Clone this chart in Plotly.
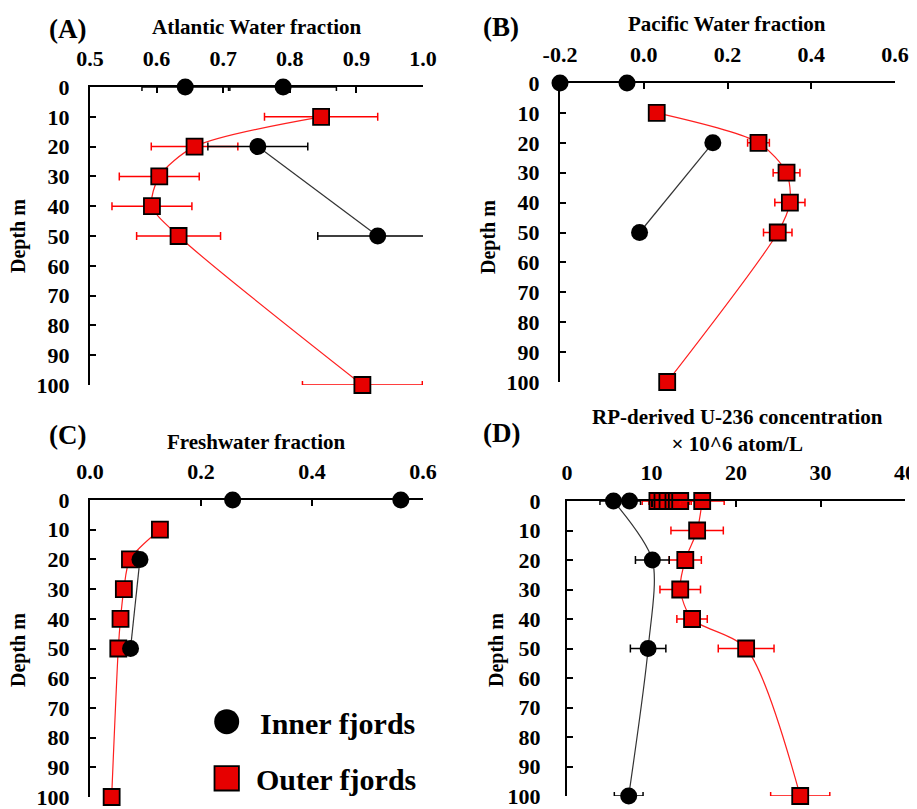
import plotly.graph_objects as go

W, H = 917, 809
OFF = 8  # page body margin of the browser
FW, FH = W - OFF, H - OFF

# ---------------- data ----------------
depth_ticks = [0, 10, 20, 30, 40, 50, 60, 70, 80, 90, 100]
depth_ticklabels = ["0", "10", "20", "30", "40", "50", "60", "70", "80", "90", "100"]

# (A) Atlantic Water fraction
a_ticks = [0.5, 0.6, 0.7, 0.8, 0.9, 1.0]
a_ticklabels = ["0.5", "0.6", "0.7", "0.8", "0.9", "1.0"]
a_inner_surf_depth = [0, 0]
a_inner_surf_val = [0.643, 0.79]
a_inner_surf_err = [0.065, 0.08]
a_inner_prof_depth = [20, 50]
a_inner_prof_val = [0.752, 0.932]
a_inner_prof_err = [0.075, 0.09]
a_outer_depth = [10, 20, 30, 40, 50, 100]
a_outer_val = [0.847, 0.657, 0.604, 0.593, 0.633, 0.909]
a_outer_err = [0.085, 0.065, 0.06, 0.06, 0.063, 0.09]

# (B) Pacific Water fraction
b_ticks = [-0.2, 0.0, 0.2, 0.4, 0.6]
b_ticklabels = ["-0.2", "0.0", "0.2", "0.4", "0.6"]
b_inner_surf_depth = [0, 0]
b_inner_surf_val = [-0.2, -0.04]
b_inner_prof_depth = [20, 50]
b_inner_prof_val = [0.165, -0.01]
b_outer_depth = [10, 20, 30, 40, 50, 100]
b_outer_val = [0.031, 0.274, 0.341, 0.349, 0.32, 0.056]
b_outer_err = [0.0, 0.026, 0.032, 0.036, 0.034, 0.0]

# (C) Freshwater fraction
c_ticks = [0.0, 0.2, 0.4, 0.6]
c_ticklabels = ["0.0", "0.2", "0.4", "0.6"]
c_inner_surf_depth = [0, 0]
c_inner_surf_val = [0.257, 0.56]
c_inner_prof_depth = [20, 50]
c_inner_prof_val = [0.09, 0.073]
c_outer_depth = [10, 20, 30, 40, 50, 100]
c_outer_val = [0.126, 0.072, 0.061, 0.055, 0.051, 0.039]

# (D) RP-derived U-236 concentration (x 10^6 atom/L)
d_ticks = [0, 10, 20, 30, 40]
d_ticklabels = ["0", "10", "20", "30", "40"]
d_inner_surf_depth = [0]
d_inner_surf_val = [7.4]
d_inner_surf_err = [1.3]
d_inner_prof_depth = [0, 20, 50, 100]
d_inner_prof_val = [5.5, 10.1, 9.6, 7.3]
d_inner_prof_err = [1.6, 2.0, 2.1, 1.7]
d_outer_surf_depth = [0, 0, 0, 0, 0, 0]
d_outer_surf_val = [10.7, 11.3, 11.9, 12.6, 13.0, 13.4]
d_outer_surf_err = [1.8, 1.6, 1.5, 1.4, 1.5, 1.3]
d_outer_depth = [0, 10, 20, 30, 40, 50, 100]
d_outer_val = [16.0, 15.4, 14.0, 13.4, 14.8, 21.2, 27.6]
d_outer_err = [2.6, 3.1, 1.9, 2.4, 1.8, 3.3, 3.5]

legend_labels = ["Inner fjords", "Outer fjords"]

# ---------------- style ----------------
FONT = "Liberation Serif, Times New Roman, serif"
RED_FILL = "#E60000"
RED_LINE = "#FF2020"

fig = go.Figure()


def add_series(ax, xs, ys, kind, err=None, line=False, clip=False):
    inner = kind == "inner"
    kw = {}
    if err is not None:
        kw["error_x"] = dict(type="data", array=err, visible=True,
                             color="black" if inner else "red",
                             thickness=1.5, width=4)
    fig.add_trace(go.Scatter(
        x=xs, y=ys, xaxis="x" + ax, yaxis="y" + ax,
        mode="lines+markers" if line else "markers",
        line=dict(color="#333333" if inner else RED_LINE, width=1.2,
                  shape="spline", smoothing=0.8),
        marker=dict(symbol="circle" if inner else "square",
                    size=17 if inner else 16,
                    color="black" if inner else RED_FILL,
                    line=dict(color="black", width=0 if inner else 1.8)),
        cliponaxis=clip, showlegend=False, **kw))


# panel A
add_series("", a_outer_val, a_outer_depth, "outer", a_outer_err, line=True)
add_series("", a_inner_surf_val, a_inner_surf_depth, "inner", a_inner_surf_err)
add_series("", a_inner_prof_val, a_inner_prof_depth, "inner", a_inner_prof_err, line=True, clip=True)
# panel B
add_series("2", b_outer_val, b_outer_depth, "outer", b_outer_err, line=True)
add_series("2", b_inner_surf_val, b_inner_surf_depth, "inner")
add_series("2", b_inner_prof_val, b_inner_prof_depth, "inner", line=True)
# panel C
add_series("3", c_outer_val, c_outer_depth, "outer", line=True)
add_series("3", c_inner_surf_val, c_inner_surf_depth, "inner")
add_series("3", c_inner_prof_val, c_inner_prof_depth, "inner", line=True)
# panel D
add_series("4", d_outer_surf_val, d_outer_surf_depth, "outer", d_outer_surf_err)
add_series("4", d_outer_val, d_outer_depth, "outer", d_outer_err, line=True)
add_series("4", d_inner_surf_val, d_inner_surf_depth, "inner", d_inner_surf_err)
add_series("4", d_inner_prof_val, d_inner_prof_depth, "inner", d_inner_prof_err, line=True)


def px_x(p):
    return (p - OFF) / FW


def px_y(p):
    return 1 - (p - OFF) / FH


tickfont = dict(family=FONT, size=22, color="black", weight="bold")

panels = [
    # suffix, x0,x1,ytop,ybot, range, ticks, labels, ystandoff
    ("", 90, 423, 87, 385, [0.5, 1.0], a_ticks, a_ticklabels, 14),
    ("2", 560, 895, 83, 382, [-0.2, 0.6], b_ticks, b_ticklabels, 14),
    ("3", 90, 423, 500, 797, [0.0, 0.6], c_ticks, c_ticklabels, 14),
    ("4", 567, 905, 501, 796, [0, 40], d_ticks, d_ticklabels, 20),
]

layout = dict(
    width=FW, height=FH, margin=dict(l=0, r=0, t=0, b=0, autoexpand=False),
    plot_bgcolor="white", paper_bgcolor="white", showlegend=False,
)
for suf, x0, x1, yt, yb, rng, tv, tt, ystand in panels:
    layout["xaxis" + suf] = dict(
        domain=[px_x(x0), px_x(x1)], range=rng, anchor="y" + suf, side="top",
        tickvals=tv, ticktext=tt, ticks="inside", ticklen=6, tickwidth=1.5,
        tickcolor="black", showline=True, linecolor="black", linewidth=2,
        showgrid=False, zeroline=False, tickfont=tickfont, ticklabelstandoff=10,
        automargin=False, ticklabeloverflow="allow",
    )
    layout["yaxis" + suf] = dict(
        domain=[px_y(yb), px_y(yt)], range=[100, 0], anchor="x" + suf,
        tickvals=depth_ticks, ticktext=depth_ticklabels, ticks="inside",
        ticklen=6, tickwidth=1.5, tickcolor="black", showline=True,
        linecolor="black", linewidth=2, showgrid=False, zeroline=False,
        tickfont=tickfont, ticklabelstandoff=ystand, automargin=False,
        ticklabeloverflow="allow",
    )
fig.update_layout(**layout)


def ann(text, x, y, size, angle=0, xanchor="center"):
    fig.add_annotation(text=text, x=px_x(x), y=px_y(y), xref="paper", yref="paper",
                       showarrow=False, xanchor=xanchor, yanchor="middle",
                       textangle=angle,
                       font=dict(family=FONT, size=size, color="black", weight="bold"))


# panel titles / labels
ann("Atlantic Water fraction", 256.5, 27, 21)
ann("(A)", 68, 29, 27)
ann("Pacific Water fraction", 727, 24, 21)
ann("(B)", 501, 27, 27)
ann("Freshwater fraction", 256.5, 442, 21)
ann("(C)", 68, 435, 27)
ann("RP-derived U-236 concentration<br>× 10^6 atom/L", 737, 431, 21)
ann("(D)", 501, 433, 27)
for xx, yy in [(18, 236), (488, 237), (18, 650), (496, 650)]:
    ann("Depth m", xx, yy, 20, angle=-90)

# legend (panel C)
fig.add_shape(type="circle", xref="paper", yref="paper",
              x0=px_x(214.2), x1=px_x(239.2), y0=px_y(734.2), y1=px_y(709.2),
              fillcolor="black", line=dict(color="black", width=0))
fig.add_shape(type="rect", xref="paper", yref="paper",
              x0=px_x(214.5), x1=px_x(238.9), y0=px_y(790.5), y1=px_y(766.1),
              fillcolor=RED_FILL, line=dict(color="black", width=1.8))
ann(legend_labels[0], 258, 723, 30, xanchor="left")
ann(legend_labels[1], 254, 779, 30, xanchor="left")

fig.write_html("out.html")
